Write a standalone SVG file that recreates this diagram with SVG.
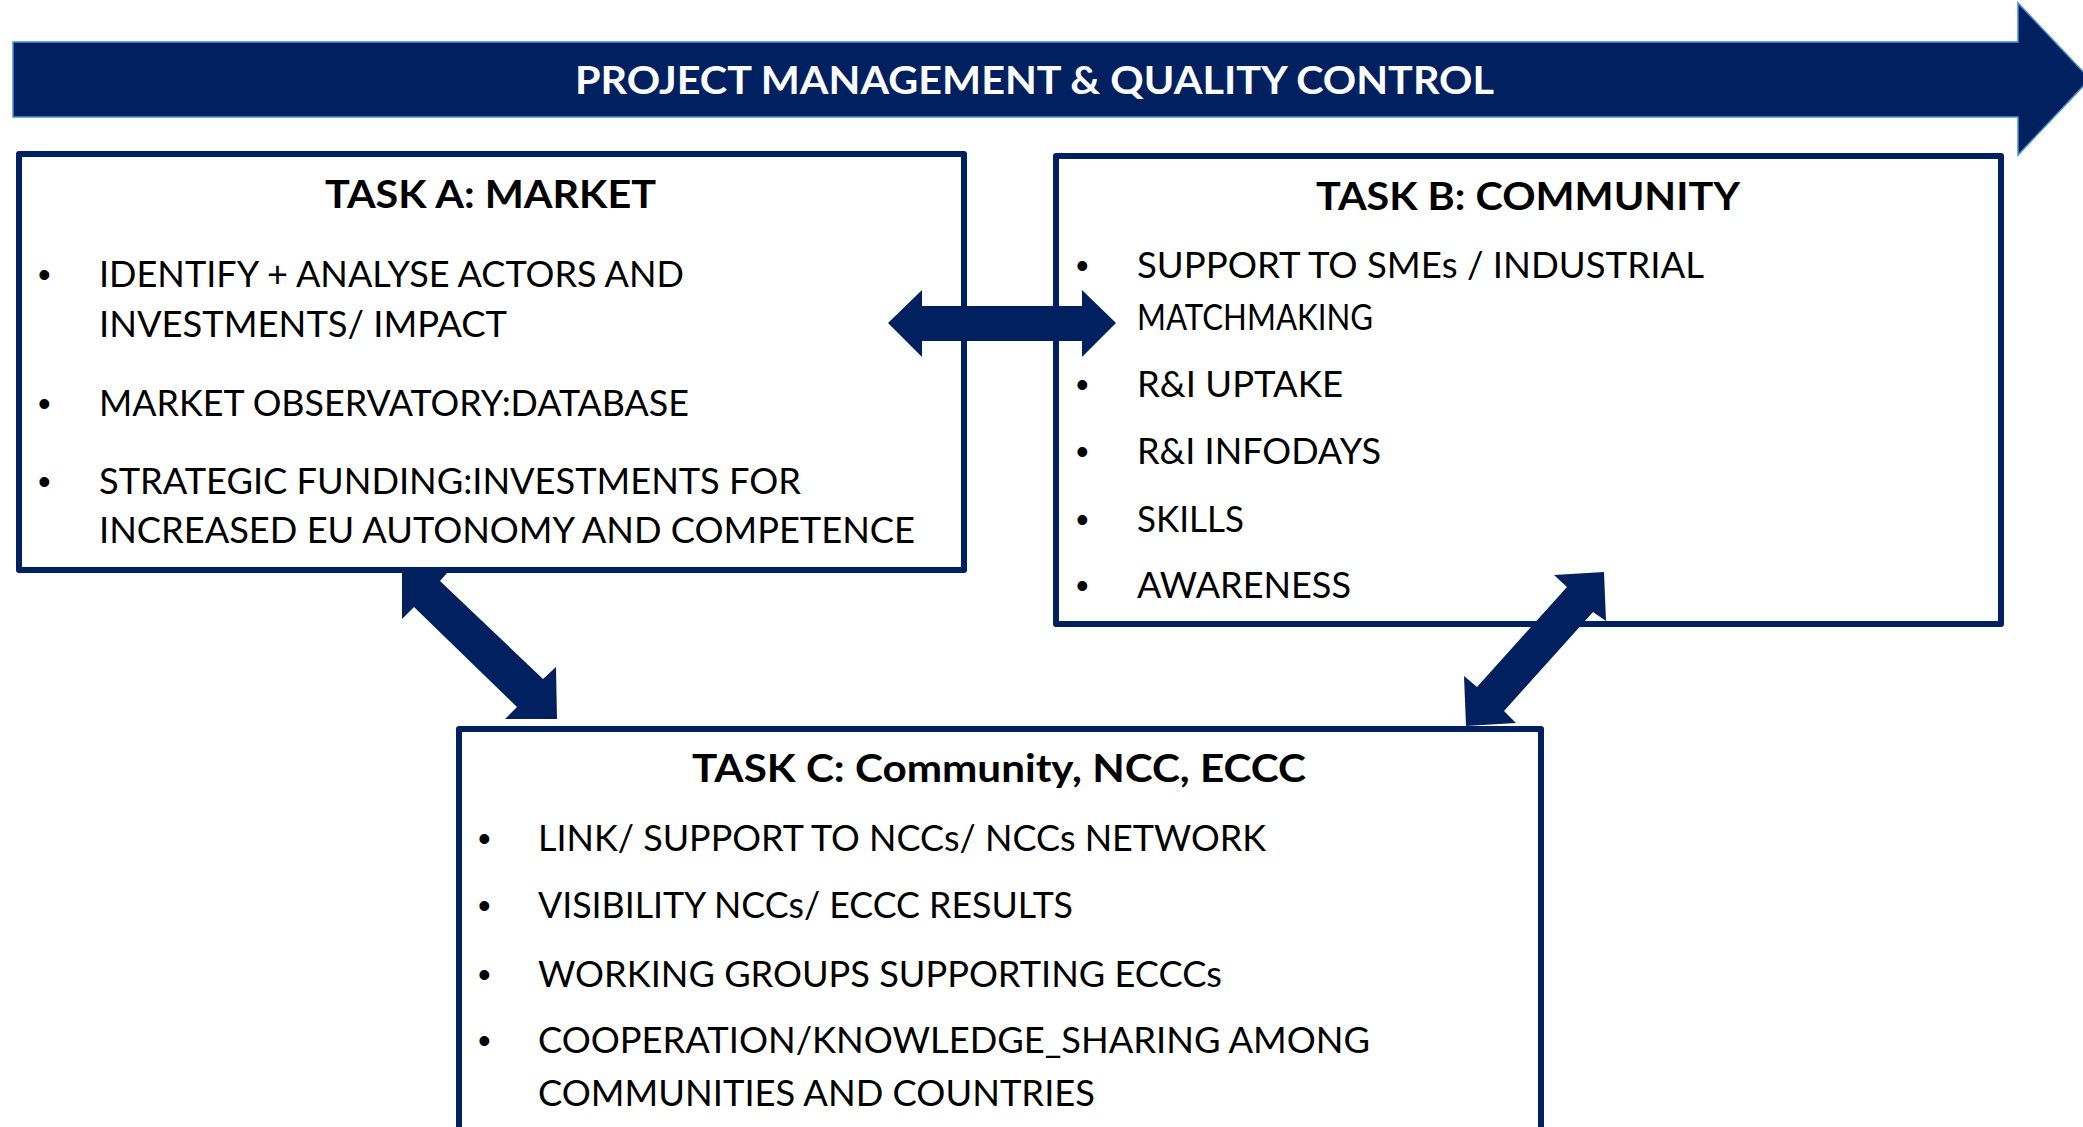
<svg xmlns="http://www.w3.org/2000/svg" width="2083" height="1127" viewBox="0 0 2083 1127">
<style>
.box{fill:#ffffff;stroke:#002060;stroke-width:6;stroke-linejoin:round}
.arr{fill:#002060}
.banner{fill:#002060;stroke:#4A90D0;stroke-width:1.5}
.t{font-family:Lato,"Open Sans","Liberation Sans",sans-serif;font-size:36px;fill:#000000}
.h{font-family:Lato,"Open Sans","Liberation Sans",sans-serif;font-size:39px;font-weight:bold;fill:#000000}
.ban{font-family:Lato,"Open Sans","Liberation Sans",sans-serif;font-size:38px;font-weight:bold;fill:#ffffff}
.b{font-family:"Liberation Sans",Arial,sans-serif;font-size:36px;fill:#000000}
</style>
<rect width="2083" height="1127" fill="#ffffff"/>
<g id="banner">
<polygon class="banner" points="13,42 2018,42 2018,3 2090,79 2018,155 2018,117 13,117"/>
<text class="ban" x="575" y="94" textLength="919" lengthAdjust="spacingAndGlyphs">PROJECT MANAGEMENT &amp; QUALITY CONTROL</text>
</g>
<g id="taskA">
<rect class="box" x="19" y="154" width="945" height="416"/>
<text class="h" x="325" y="208" textLength="331" lengthAdjust="spacingAndGlyphs">TASK A: MARKET</text>
<text class="b" x="38" y="287">•</text>
<text class="t" x="99" y="287" textLength="585" lengthAdjust="spacingAndGlyphs">IDENTIFY + ANALYSE ACTORS AND</text>
<text class="t" x="99" y="337" textLength="408" lengthAdjust="spacingAndGlyphs">INVESTMENTS/ IMPACT</text>
<text class="b" x="38" y="416">•</text>
<text class="t" x="99" y="416" textLength="590" lengthAdjust="spacingAndGlyphs">MARKET OBSERVATORY:DATABASE</text>
<text class="b" x="38" y="494">•</text>
<text class="t" x="99" y="494" textLength="702" lengthAdjust="spacingAndGlyphs">STRATEGIC FUNDING:INVESTMENTS FOR</text>
<text class="t" x="99" y="543" textLength="816" lengthAdjust="spacingAndGlyphs">INCREASED EU AUTONOMY AND COMPETENCE</text>
</g>
<g id="taskB">
<rect class="box" x="1056" y="156" width="945" height="468"/>
<text class="h" x="1316" y="210" textLength="424" lengthAdjust="spacingAndGlyphs">TASK B: COMMUNITY</text>
<text class="b" x="1076" y="278">•</text>
<text class="t" x="1137" y="278" textLength="567" lengthAdjust="spacingAndGlyphs">SUPPORT TO SMEs / INDUSTRIAL</text>
<text class="t" x="1137" y="330" textLength="236" lengthAdjust="spacingAndGlyphs">MATCHMAKING</text>
<text class="b" x="1076" y="397">•</text>
<text class="t" x="1137" y="397" textLength="206" lengthAdjust="spacingAndGlyphs">R&amp;I UPTAKE</text>
<text class="b" x="1076" y="464">•</text>
<text class="t" x="1137" y="464" textLength="244" lengthAdjust="spacingAndGlyphs">R&amp;I INFODAYS</text>
<text class="b" x="1076" y="532">•</text>
<text class="t" x="1137" y="532" textLength="107" lengthAdjust="spacingAndGlyphs">SKILLS</text>
<text class="b" x="1076" y="598">•</text>
<text class="t" x="1137" y="598" textLength="214" lengthAdjust="spacingAndGlyphs">AWARENESS</text>
</g>
<g id="taskC">
<rect class="box" x="459" y="729" width="1082" height="410"/>
<text class="h" x="692" y="782" textLength="614" lengthAdjust="spacingAndGlyphs">TASK C: Community, NCC, ECCC</text>
<text class="b" x="478" y="851">•</text>
<text class="t" x="538" y="851" textLength="728" lengthAdjust="spacingAndGlyphs">LINK/ SUPPORT TO NCCs/ NCCs NETWORK</text>
<text class="b" x="478" y="918">•</text>
<text class="t" x="538" y="918" textLength="535" lengthAdjust="spacingAndGlyphs">VISIBILITY NCCs/ ECCC RESULTS</text>
<text class="b" x="478" y="987">•</text>
<text class="t" x="538" y="987" textLength="684" lengthAdjust="spacingAndGlyphs">WORKING GROUPS SUPPORTING ECCCs</text>
<text class="b" x="478" y="1053">•</text>
<text class="t" x="538" y="1053" textLength="832" lengthAdjust="spacingAndGlyphs">COOPERATION/KNOWLEDGE_SHARING AMONG</text>
<text class="t" x="538" y="1106" textLength="557" lengthAdjust="spacingAndGlyphs">COMMUNITIES AND COUNTRIES</text>
</g>
<g id="connectors">
<polygon class="arr" points="888,323 922,290 922,306 1082,306 1082,290 1116,323 1082,357 1082,341 922,341 922,357"/>
<polygon class="arr" points="402,573 447,573 440,581 543,679 556,667 557,719 505,719 517,707 414,607 402,619"/>
<polygon class="arr" points="1604,572 1606,621 1593,612 1504,711 1516,723 1466,726 1464,676 1477,687 1567,587 1554,575"/>
</g>
</svg>
